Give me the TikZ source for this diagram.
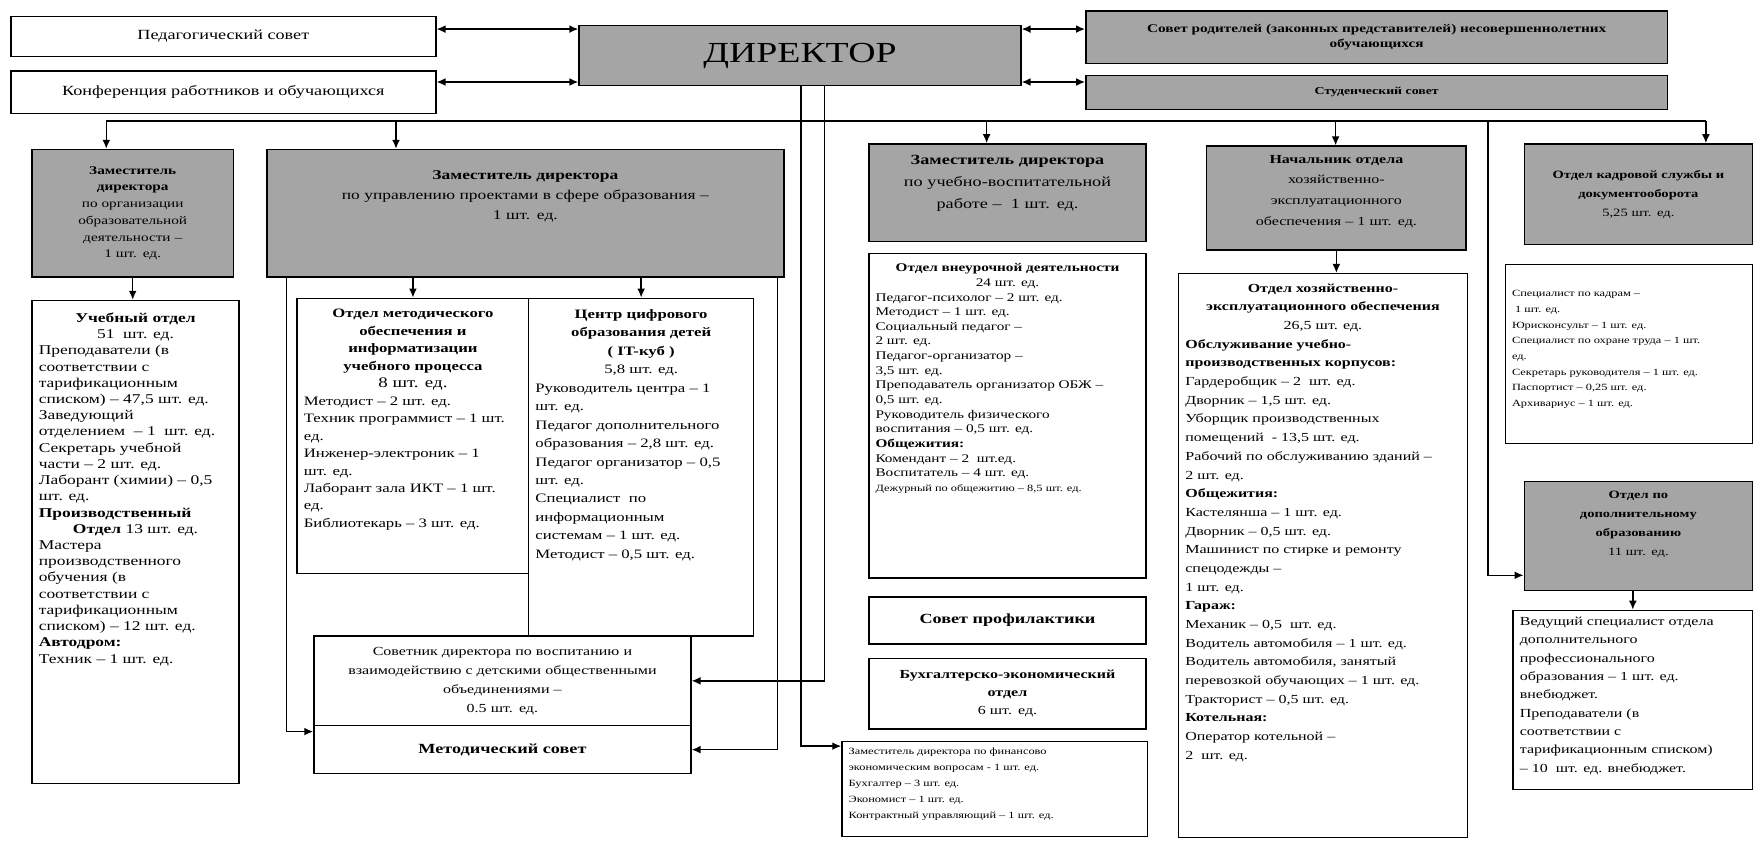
\documentclass[tikz,border=0pt]{standalone}
\usepackage{fontspec}
\setmainfont{Liberation Serif}[FakeStretch=1.3]
\usetikzlibrary{arrows.meta,calc}
\definecolor{boxgray}{RGB}{165,165,165}
\newcommand{\fs}[2]{\fontsize{#1}{#2}\selectfont}
\newcommand{\cellbox}[3]{\parbox[c][#2][t]{#1}{\raggedright #3}}

\begin{document}
\begin{tikzpicture}[x=1pt, y=-1pt,
  box/.style={draw, line width=1.3pt, anchor=north west, inner sep=5pt, align=center},
  gbox/.style={box, fill=boxgray},
  cell/.style={draw, line width=1.3pt, anchor=north west, inner sep=6pt},
  arr/.style={-{Latex[length=8pt,width=7pt]}, line width=1.3pt},
  biarr/.style={{Latex[length=8pt,width=7pt]}-{Latex[length=8pt,width=7pt]}, line width=1.3pt},
  ln/.style={line width=1.3pt},
]
  \fill[white] (0,0) rectangle (1568,752);
  \useasboundingbox (0,0) rectangle (1568,752);

  % Councils and director
  \node[box, minimum width=380, minimum height=36, font=\fs{12.5}{15}] (ped) at (9,14) {Педагогический совет};
  \node[box, minimum width=380, minimum height=38, font=\fs{12.5}{15}] (konf) at (9,63) {Конференция работников и обучающихся};
  \node[gbox, minimum width=395, minimum height=54, font=\fs{26}{30}] (dir) at (517,22) {ДИРЕКТОР};
  \node[gbox, minimum width=520, minimum height=47, font=\bfseries\fs{10.5}{14}] (rod) at (970,9) {Совет родителей (законных представителей) несовершеннолетних\\обучающихся};
  \node[gbox, minimum width=520, minimum height=30, font=\bfseries\fs{9.5}{12}] (stud) at (970,67) {Студенческий совет};

  % Deputies and heads
  \node[gbox, minimum width=180, minimum height=114, text width=170, font=\fs{10.5}{15}] (zam1) at (28,133) {\textbf{Заместитель}\\\textbf{директора}\\по организации\\образовательной\\деятельности –\\1 шт. ед.};
  \node[gbox, minimum width=462, minimum height=114, text width=450, text depth=69pt, font=\fs{12}{18}] (zam2) at (238,133) {\textbf{Заместитель директора}\\по управлению проектами в сфере образования –\\1 шт. ед.};
  \node[gbox, minimum width=248, minimum height=87, text width=238, text depth=59pt, font=\fs{12.5}{20}] (vr) at (776,128) {\textbf{Заместитель директора}\\по учебно-воспитательной\\работе –\ \ 1 шт. ед.};
  \node[gbox, minimum width=232, minimum height=93, text width=222, text depth=70pt, font=\fs{11}{18.5}] (nach) at (1078,130) {\textbf{Начальник отдела}\\хозяйственно-\\эксплуатационного\\обеспечения – 1 шт. ед.};
  \node[gbox, minimum width=204, minimum height=90, text width=194, font=\fs{10}{17}] (kadry) at (1362,128) {\textbf{Отдел кадровой службы и}\\\textbf{документооборота}\\5,25 шт. ед.};

  % Departments
  \node[cell, font=\fs{12}{14.5}] (uch) at (28,268) {\cellbox{173pt}{420pt}{\vspace*{5pt}{\centering\textbf{Учебный отдел}\\51\ \ шт. ед.\par}%
    Преподаватели (в\\соответствии с\\тарификационным\\списком) – 47,5 шт. ед.\\Заведующий\\отделением\ \ – 1\ \ шт. ед.\\Секретарь учебной\\части – 2 шт. ед.\\Лаборант (химии) – 0,5\\шт. ед.\\\textbf{Производственный}\par
    {\centering\textbf{Отдел} 13 шт. ед.\par}%
    Мастера\\производственного\\обучения (в\\соответствии с\\тарификационным\\списком) – 12 шт. ед.\\\textbf{Автодром:}\\Техник – 1 шт. ед.}};
  \node[cell, font=\fs{11.5}{15.6}] (metod) at (265,266) {\cellbox{195pt}{234pt}{\vspace*{4pt}{\centering\textbf{Отдел методического}\\\textbf{обеспечения и}\\\textbf{информатизации}\\\textbf{учебного процесса}\\{\fs{13}{16}8 шт. ед.}\par}%
    Методист – 2 шт. ед.\\Техник программист – 1 шт.\\ед.\\Инженер-электроник – 1\\шт. ед.\\Лаборант зала ИКТ – 1 шт.\\ед.\\Библиотекарь – 3 шт. ед.}};
  \node[cell, font=\fs{11.5}{16.5}] (it) at (472,266) {\cellbox{189pt}{290pt}{\vspace*{4pt}{\centering\textbf{Центр цифрового}\\\textbf{образования детей}\\\textbf{( IT-куб )}\\5,8 шт. ед.\par}%
    Руководитель центра – 1\\шт. ед.\\Педагог дополнительного\\образования – 2,8 шт. ед.\\Педагог организатор – 0,5\\шт. ед.\\Специалист\ \ по\\информационным\\системам – 1 шт. ед.\\Методист – 0,5 шт. ед.}};
  \node[box, minimum width=337, minimum height=80, text width=327, font=\fs{11}{17}] (sovet) at (280,568) {Советник директора по воспитанию и\\взаимодействию с детскими общественными\\объединениями –\\0.5 шт. ед.};
  \node[box, minimum width=337, minimum height=43, font=\bfseries\fs{12.5}{15}] (metsov) at (280,648) {Методический совет};
  \node[cell, font=\fs{10.5}{13.1}] (vneur) at (776,226) {\cellbox{236pt}{278pt}{\vspace*{3pt}{\centering\textbf{Отдел внеурочной деятельности}\\24 шт. ед.\par}%
    Педагог-психолог – 2 шт. ед.\\Методист – 1 шт. ед.\\Социальный педагог –\\2 шт. ед.\\Педагог-организатор –\\3,5 шт. ед.\\Преподаватель организатор ОБЖ –\\0,5 шт. ед.\\Руководитель физического\\воспитания – 0,5 шт. ед.\\\textbf{Общежития:}\\Комендант – 2\ \ шт.ед.\\Воспитатель – 4 шт. ед.\\{\fs{8.5}{13}Дежурный по общежитию – 8,5 шт. ед.}}};
  \node[box, minimum width=248, minimum height=42, font=\bfseries\fs{12.5}{15}] (sovprof) at (776,533) {Совет профилактики};
  \node[box, minimum width=248, minimum height=63, text width=238, font=\fs{11}{16}] (buh) at (776,588) {\textbf{Бухгалтерско-экономический}\\\textbf{отдел}\\6 шт. ед.};
  \node[cell, font=\fs{8.5}{14.3}] (fin) at (752,662) {\cellbox{261pt}{73pt}{Заместитель директора по финансово\\экономическим вопросам - 1 шт. ед.\\Бухгалтер – 3 шт. ед.\\Экономист – 1 шт. ед.\\Контрактный управляющий – 1 шт. ед.}};
  \node[cell, font=\fs{11}{16.7}] (hoz) at (1053,244) {\cellbox{246pt}{492pt}{\vspace*{3pt}{\centering\textbf{Отдел хозяйственно-}\\\textbf{эксплуатационного обеспечения}\\26,5 шт. ед.\par}%
    \textbf{Обслуживание учебно-}\\\textbf{производственных корпусов:}\\Гардеробщик – 2\ \ шт. ед.\\Дворник – 1,5 шт. ед.\\Уборщик производственных\\помещений\ \ - 13,5 шт. ед.\\Рабочий по обслуживанию зданий –\\2 шт. ед.\\\textbf{Общежития:}\\Кастелянша – 1 шт. ед.\\Дворник – 0,5 шт. ед.\\Машинист по стирке и ремонту\\спецодежды –\\1 шт. ед.\\\textbf{Гараж:}\\Механик – 0,5\ \ шт. ед.\\Водитель автомобиля – 1 шт. ед.\\Водитель автомобиля, занятый\\перевозкой обучающих – 1 шт. ед.\\Тракторист – 0,5 шт. ед.\\\textbf{Котельная:}\\Оператор котельной –\\2\ \ шт. ед.}};
  \node[cell, font=\fs{8.5}{14}] (kadlist) at (1345,236) {\cellbox{209pt}{148pt}{\vspace*{17pt}Специалист по кадрам –\\\ 1 шт. ед.\\Юрисконсульт – 1 шт. ед.\\Специалист по охране труда – 1 шт.\\ед.\\Секретарь руководителя – 1 шт. ед.\\Паспортист – 0,25 шт. ед.\\Архивариус – 1 шт. ед.}};
  \node[gbox, minimum width=204, minimum height=97, text width=194, text depth=74pt, font=\fs{10}{17}] (dop) at (1362,430) {\textbf{Отдел по}\\\textbf{дополнительному}\\\textbf{образованию}\\11 шт. ед.};
  \node[cell, font=\fs{11}{16.4}] (dopbox) at (1352,545) {\cellbox{202pt}{148pt}{Ведущий специалист отдела\\дополнительного\\профессионального\\образования – 1 шт. ед.\\внебюджет.\\Преподаватели (в\\соответствии с\\тарификационным списком)\\– 10\ \ шт. ед. внебюджет.}};

  % Links of the director
  \coordinate (dirhi) at ($(dir.north west)+(0,4)$);
  \coordinate (dirlo) at ($(dir.south west)+(0,-4)$);
  \draw[biarr] (ped.east |- dirhi) -- (dirhi);
  \draw[biarr] (konf.east |- dirlo) -- (dirlo);
  \draw[biarr] (dirhi -| dir.east) -- (dirhi -| rod.west);
  \draw[biarr] (dirlo -| dir.east) -- (dirlo -| stud.west);

  % Main bus
  \coordinate (busL) at (95,108);
  \coordinate (busR) at (1525,108);
  \coordinate (busK) at (1330,108);
  \draw[ln] (busL) -- (busR);
  \foreach \x/\n in {95/zam1, 354/zam2, 882/vr, 1194/nach, 1525/kadry}
    \draw[arr] (\x,108) -- (\n.north -| \x,0);

  % Down links
  \coordinate (finin) at ($(fin.north west)+(0,5)$);
  \coordinate (msL) at ($(metsov.north west)+(0,6)$);
  \coordinate (dopin) at ($(dop.south west)+(0,-14)$);
  \draw[arr] (dir.south -| 737,0) |- (sovet.east);
  \draw[arr] (dir.south -| 716,0) |- (finin);
  \draw[arr] (zam2.south -| 256,0) |- (msL);
  \draw[arr] (zam2.south -| 695,0) |- (metsov.east);
  \draw[arr] (zam2.south -| metod.north) -- (metod.north);
  \draw[arr] (zam2.south -| it.north) -- (it.north);
  \draw[arr] (zam1.south) -- (zam1.south |- uch.north);
  \draw[arr] (nach.south) -- (nach.south |- hoz.north);
  \draw[arr] (dop.south -| dopbox.north) -- (dopbox.north);
  \draw[arr] (busK) |- (dopin);
\end{tikzpicture}
\end{document}
